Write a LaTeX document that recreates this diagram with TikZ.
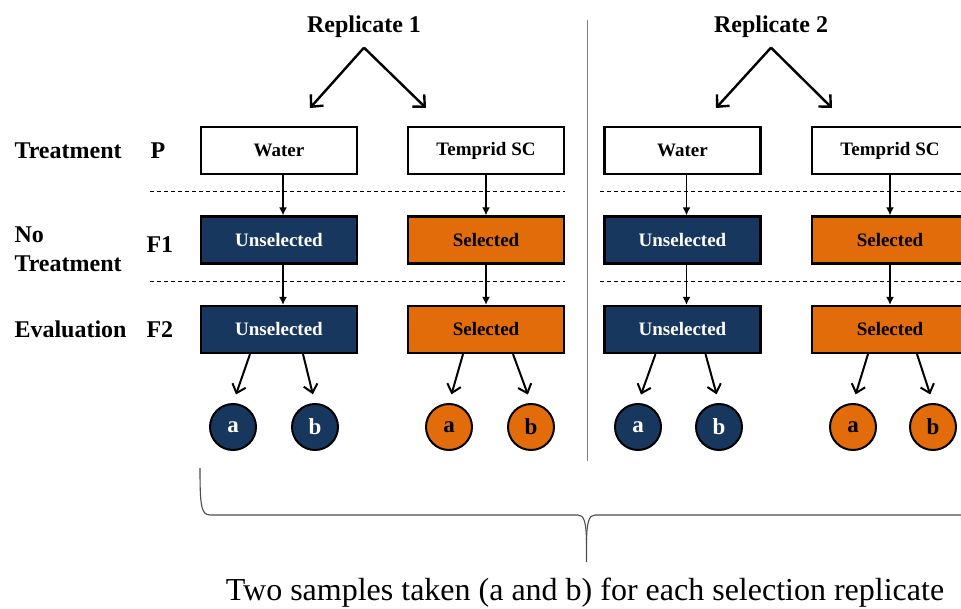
\documentclass[tikz,border=0pt]{standalone}
\usepackage{fontspec}
\setmainfont{Liberation Serif}
\usetikzlibrary{arrows.meta}
\definecolor{navy}{HTML}{17375E}
\definecolor{amber}{HTML}{E36C0A}

\begin{document}
\begin{tikzpicture}[
    x=1pt, y=-1pt,
    box/.style={draw, line width=2.2pt, minimum width=156pt, minimum height=47pt, inner sep=0pt, font=\fontsize{19}{19}\selectfont\bfseries},
    waterbox/.style={box, fill=white},
    unselbox/.style={box, fill=navy, text=white},
    selbox/.style={box, fill=amber},
    sample/.style={circle, draw, line width=2pt, minimum size=46pt, inner sep=0pt, font=\fontsize{23}{23}\selectfont\bfseries},
    usample/.style={sample, fill=navy, text=white},
    ssample/.style={sample, fill=amber},
    rowlabel/.style={anchor=base west, font=\fontsize{24}{29}\selectfont\bfseries},
    split/.style={draw, line width=2.4pt, -{Straight Barb[length=9pt, width=17pt]}},
    godown/.style={draw, line width=1.6pt, -{Latex[length=8pt, width=8pt]}},
    pick/.style={draw, line width=2pt, -{Straight Barb[length=8pt, width=14pt]}, shorten >=9pt},
    divide/.style={draw, line width=0.9pt, dash pattern=on 4pt off 3pt}
]
\clip (0,0) rectangle (961,609);
\fill[white] (0,0) rectangle (961,609);

% Row labels
\node[rowlabel] (trt) at (11,159) {Treatment};
\node[rowlabel] (gp) at (147,159) {P};
\node[rowlabel, align=left] (notrt) at (11,272) {No\\Treatment};
\node[rowlabel] (gf1) at (143,253) {F1};
\node[rowlabel] (evl) at (11,338) {Evaluation};
\node[rowlabel] (gf2) at (143,338) {F2};

% Replicates
\node[anchor=base, font=\fontsize{24}{24}\selectfont\bfseries] (rep1) at (364,33) {Replicate 1};
\node[anchor=base, font=\fontsize{24}{24}\selectfont\bfseries] (rep2) at (771,33) {Replicate 2};
\coordinate (rep1l) at (310,108);
\coordinate (rep1r) at (426,108);
\coordinate (rep2l) at (716,108);
\coordinate (rep2r) at (832,108);
\draw[split] ([yshift=-6pt]rep1.south) -- (rep1l);
\draw[split] ([yshift=-6pt]rep1.south) -- (rep1r);
\draw[split] ([yshift=-6pt]rep2.south) -- (rep2l);
\draw[split] ([yshift=-6pt]rep2.south) -- (rep2r);

% P
\node[waterbox] (wat1) at (279,150.5) {Water};
\node[waterbox] (tem1) at (486,150.5) {Temprid SC};
\node[waterbox] (wat2) at (682.5,150.5) {Water};
\node[waterbox] (tem2) at (890,150.5) {Temprid SC};

% F1
\node[unselbox] (unsA1) at (279,240) {Unselected};
\node[selbox] (selA1) at (486,240) {Selected};
\node[unselbox] (unsA2) at (682.5,240) {Unselected};
\node[selbox] (selA2) at (890,240) {Selected};

% F2
\node[unselbox] (unsB1) at (279,329.5) {Unselected};
\node[selbox] (selB1) at (486,329.5) {Selected};
\node[unselbox] (unsB2) at (682.5,329.5) {Unselected};
\node[selbox] (selB2) at (890,329.5) {Selected};

% samples
\node[usample] (ua1) at (233,427) {a};
\node[usample] (ub1) at (315,427) {b};
\node[ssample] (sa1) at (449,427) {a};
\node[ssample] (sb1) at (531,427) {b};
\node[usample] (ua2) at (638,427) {a};
\node[usample] (ub2) at (719,427) {b};
\node[ssample] (sa2) at (853,427) {a};
\node[ssample] (sb2) at (933,427) {b};

% generation dividers
\draw[divide] (150,191) -- (565,191);
\draw[divide] (600,191) -- (961,191);
\draw[divide] (150,281) -- (565,281);
\draw[divide] (600,281) -- (961,281);

\draw[godown] ([xshift=4pt]wat1.south) -- ([xshift=4pt]unsA1.north);
\draw[godown] ([xshift=4pt]unsA1.south) -- ([xshift=4pt]unsB1.north);
\draw[godown] (tem1.south) -- (selA1.north);
\draw[godown] (selA1.south) -- (selB1.north);
\draw[godown] ([xshift=4pt]wat2.south) -- ([xshift=4pt]unsA2.north);
\draw[godown] ([xshift=4pt]unsA2.south) -- ([xshift=4pt]unsB2.north);
\draw[godown] (tem2.south) -- (selA2.north);
\draw[godown] (selA2.south) -- (selB2.north);

\draw[pick] ([xshift=-29pt]unsB1.south) -- (ua1.north);
\draw[pick] ([xshift=24pt]unsB1.south) -- (ub1.north);
\draw[pick] ([xshift=-23pt]selB1.south) -- (sa1.north);
\draw[pick] ([xshift=27pt]selB1.south) -- (sb1.north);
\draw[pick] ([xshift=-27pt]unsB2.south) -- (ua2.north);
\draw[pick] ([xshift=23pt]unsB2.south) -- (ub2.north);
\draw[pick] ([xshift=-22pt]selB2.south) -- (sa2.north);
\draw[pick] ([xshift=27pt]selB2.south) -- (sb2.north);

% replicate divider
\draw[gray, line width=1pt] (587,20) -- (587,461);

% brace
\draw[gray!60!black, line width=1.1pt] (200,468) .. controls (200,505) and (201,515) .. (210,515) -- (578,515)
    .. controls (584,515) and (586,522) .. (586.5,540) -- (586.5,562);
\draw[gray!60!black, line width=1.1pt] (586.5,540) .. controls (587,522) and (589,515) .. (595,515) -- (975,515);
\node[anchor=base, font=\fontsize{32}{32}\selectfont] (note) at (585,600) {Two samples taken (a and b) for each selection replicate};

\end{tikzpicture}
\end{document}
